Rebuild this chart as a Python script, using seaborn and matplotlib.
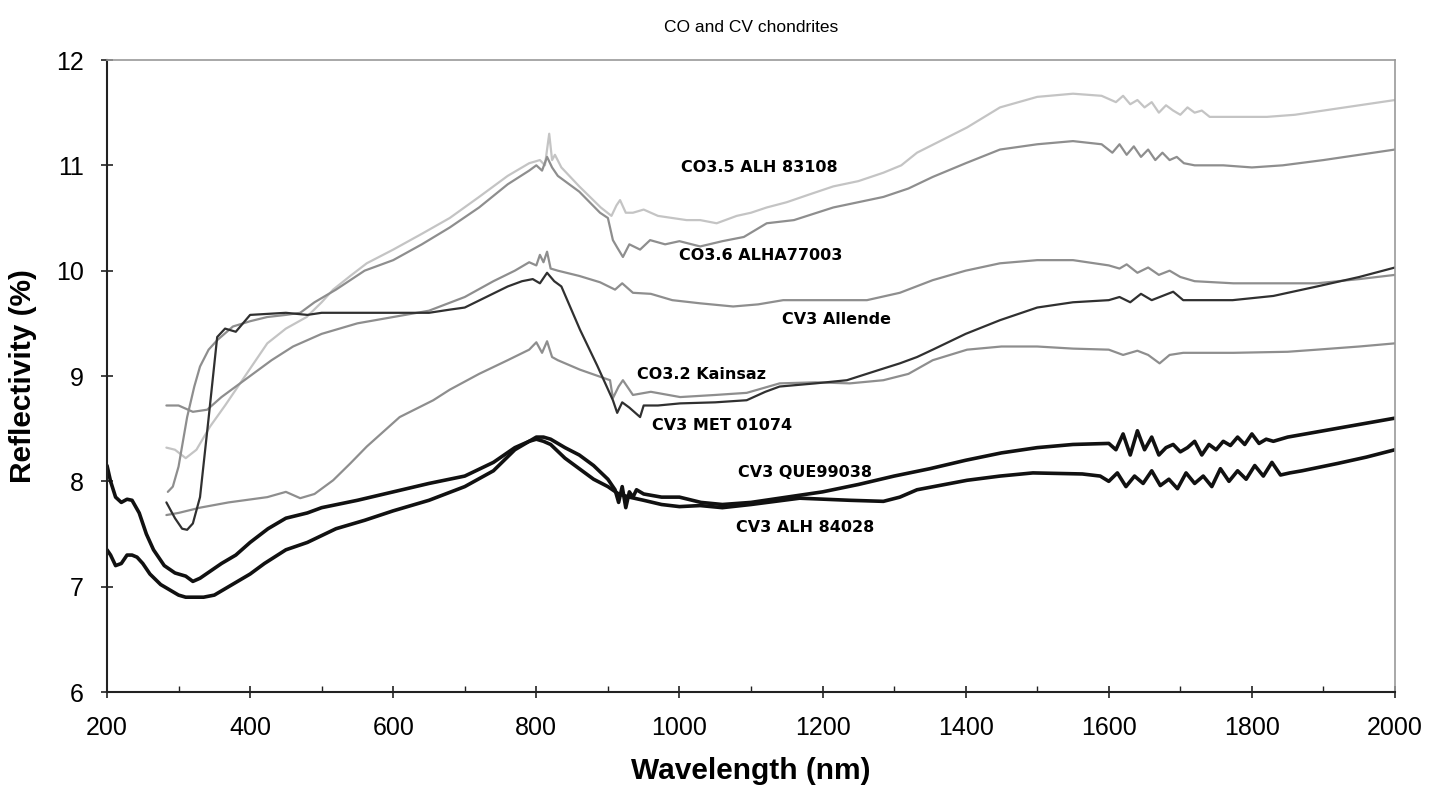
import matplotlib
matplotlib.use("Agg")
import matplotlib.pyplot as plt
from matplotlib.ticker import MultipleLocator
import seaborn as sns

# Spectra (wavelength nm, reflectivity %)
co35_wl = [283, 295, 310, 325, 344, 365, 386, 405, 424, 450, 479, 500, 516, 540, 563, 600, 640, 679, 720, 760,
           790, 805, 812, 818, 822, 826, 835, 860, 890, 905, 912, 917, 925, 935, 950, 970, 990, 1010, 1029, 1052,
           1080, 1100, 1122, 1150, 1180, 1215, 1250, 1285, 1310, 1332, 1370, 1402, 1448, 1500, 1550, 1590, 1610,
           1620, 1630, 1640, 1650, 1660, 1670, 1680, 1690, 1700, 1710, 1720, 1730, 1741, 1780, 1821, 1860, 1900,
           1950, 2000]
co35_r = [8.32, 8.30, 8.22, 8.30, 8.52, 8.72, 8.93, 9.12, 9.31, 9.45, 9.56, 9.70, 9.82, 9.95, 10.07, 10.20, 10.35,
          10.50, 10.70, 10.90, 11.02, 11.05, 11.00, 11.30, 11.05, 11.10, 10.98, 10.80, 10.60, 10.52, 10.62, 10.67,
          10.55, 10.55, 10.58, 10.52, 10.50, 10.48, 10.48, 10.45, 10.52, 10.55, 10.60, 10.65, 10.72, 10.80, 10.85,
          10.93, 11.00, 11.12, 11.25, 11.36, 11.55, 11.65, 11.68, 11.66, 11.60, 11.66, 11.58, 11.62, 11.55, 11.60,
          11.50, 11.57, 11.52, 11.48, 11.55, 11.50, 11.52, 11.46, 11.46, 11.46, 11.48, 11.52, 11.57, 11.62]

co36_wl = [285, 292, 300, 312, 322, 330, 342, 354, 376, 400, 424, 450, 470, 490, 520, 560, 600, 640, 679, 720,
           760, 790, 800, 808, 815, 822, 830, 860, 889, 900, 907, 913, 921, 930, 945, 959, 980, 1000, 1029, 1060,
           1090, 1122, 1160, 1215, 1250, 1285, 1320, 1354, 1400, 1448, 1500, 1550, 1590, 1605, 1615, 1625, 1635,
           1645, 1655, 1665, 1675, 1685, 1695, 1705, 1720, 1760, 1800, 1843, 1900, 1950, 2000]
co36_r = [7.90, 7.95, 8.14, 8.61, 8.90, 9.09, 9.25, 9.34, 9.47, 9.52, 9.56, 9.58, 9.60, 9.70, 9.82, 10.00, 10.10,
          10.25, 10.41, 10.60, 10.82, 10.95, 11.00, 10.95, 11.08, 10.98, 10.90, 10.75, 10.55, 10.50, 10.29, 10.22,
          10.13, 10.25, 10.20, 10.29, 10.25, 10.28, 10.23, 10.28, 10.32, 10.45, 10.48, 10.60, 10.65, 10.70, 10.78,
          10.89, 11.02, 11.15, 11.20, 11.23, 11.20, 11.12, 11.20, 11.10, 11.18, 11.08, 11.15, 11.05, 11.12, 11.05,
          11.08, 11.02, 11.00, 11.00, 10.98, 11.00, 11.05, 11.10, 11.15]

allende_wl = [283, 300, 320, 340, 360, 380, 400, 430, 460, 500, 550, 600, 650, 700, 740, 770, 790, 800, 805, 810,
              815, 820, 830, 860, 889, 910, 920, 935, 960, 990, 1029, 1075, 1110, 1145, 1200, 1262, 1308, 1354,
              1400, 1448, 1500, 1550, 1600, 1615, 1625, 1640, 1655, 1670, 1685, 1700, 1720, 1774, 1830, 1891,
              1950, 2000]
allende_r = [8.72, 8.72, 8.66, 8.68, 8.80, 8.90, 9.00, 9.15, 9.28, 9.40, 9.50, 9.56, 9.62, 9.75, 9.90, 10.00,
             10.08, 10.05, 10.15, 10.08, 10.18, 10.02, 10.00, 9.95, 9.89, 9.82, 9.88, 9.79, 9.78, 9.72, 9.69, 9.66,
             9.68, 9.72, 9.72, 9.72, 9.79, 9.91, 10.00, 10.07, 10.10, 10.10, 10.05, 10.02, 10.06, 9.98, 10.03, 9.96,
             10.00, 9.94, 9.90, 9.88, 9.88, 9.88, 9.92, 9.96]

met_wl = [283, 295, 305, 312, 320, 330, 342, 354, 365, 380, 400, 450, 480, 500, 550, 600, 650, 679, 700, 730, 760,
          780, 795, 805, 815, 825, 835, 861, 885, 907, 913, 920, 930, 945, 950, 970, 1001, 1050, 1094, 1120, 1140,
          1190, 1234, 1280, 1308, 1332, 1354, 1400, 1448, 1500, 1550, 1600, 1615, 1630, 1645, 1660, 1675, 1690,
          1704, 1740, 1773, 1830, 1891, 1950, 2000]
met_r = [7.80, 7.65, 7.55, 7.54, 7.60, 7.85, 8.60, 9.37, 9.45, 9.42, 9.58, 9.60, 9.58, 9.60, 9.60, 9.60, 9.60,
         9.63, 9.65, 9.75, 9.85, 9.90, 9.92, 9.88, 9.98, 9.90, 9.85, 9.44, 9.10, 8.77, 8.65, 8.75, 8.70, 8.61,
         8.72, 8.72, 8.74, 8.75, 8.77, 8.85, 8.90, 8.93, 8.96, 9.06, 9.12, 9.18, 9.25, 9.40, 9.53, 9.65, 9.70,
         9.72, 9.75, 9.70, 9.78, 9.72, 9.76, 9.80, 9.72, 9.72, 9.72, 9.76, 9.85, 9.94, 10.03]

kainsaz_wl = [283, 300, 330, 370, 424, 450, 470, 490, 516, 540, 563, 609, 656, 679, 720, 760, 790, 800, 808, 815,
              822, 830, 861, 903, 907, 915, 921, 935, 960, 1001, 1050, 1094, 1140, 1190, 1238, 1285, 1320, 1354,
              1402, 1450, 1500, 1550, 1600, 1620, 1640, 1655, 1671, 1685, 1704, 1774, 1850, 1891, 1950, 2000]
kainsaz_r = [7.68, 7.70, 7.75, 7.80, 7.85, 7.90, 7.84, 7.88, 8.01, 8.17, 8.33, 8.61, 8.77, 8.87, 9.02, 9.15, 9.25,
             9.32, 9.22, 9.33, 9.18, 9.15, 9.06, 8.96, 8.79, 8.90, 8.96, 8.82, 8.85, 8.80, 8.82, 8.84, 8.93, 8.94,
             8.93, 8.96, 9.02, 9.15, 9.25, 9.28, 9.28, 9.26, 9.25, 9.20, 9.24, 9.20, 9.12, 9.20, 9.22, 9.22, 9.23,
             9.25, 9.28, 9.31]

que_wl = [200, 205, 212, 220, 228, 235, 245, 255, 265, 280, 295, 310, 320, 330, 345, 360, 380, 400, 425, 450, 480,
          500, 550, 600, 650, 700, 740, 770, 790, 800, 810, 820, 840, 860, 880, 900, 910, 915, 920, 925, 930, 935,
          940, 950, 975, 1000, 1030, 1060, 1100, 1150, 1200, 1250, 1300, 1350, 1400, 1450, 1500, 1550, 1600, 1610,
          1620, 1630, 1640, 1650, 1660, 1670, 1680, 1690, 1700, 1710, 1720, 1730, 1740, 1750, 1760, 1770, 1780,
          1790, 1800, 1810, 1820, 1830, 1850, 1900, 1950, 2000]
que_r = [8.15, 8.00, 7.85, 7.80, 7.83, 7.82, 7.70, 7.50, 7.35, 7.20, 7.13, 7.10, 7.05, 7.08, 7.15, 7.22, 7.30,
         7.42, 7.55, 7.65, 7.70, 7.75, 7.82, 7.90, 7.98, 8.05, 8.18, 8.32, 8.38, 8.42, 8.42, 8.40, 8.32, 8.25,
         8.15, 8.02, 7.92, 7.80, 7.95, 7.75, 7.90, 7.85, 7.92, 7.88, 7.85, 7.85, 7.80, 7.78, 7.80, 7.85, 7.90,
         7.97, 8.05, 8.12, 8.20, 8.27, 8.32, 8.35, 8.36, 8.30, 8.45, 8.25, 8.48, 8.30, 8.42, 8.25, 8.32, 8.35,
         8.28, 8.32, 8.38, 8.25, 8.35, 8.30, 8.38, 8.34, 8.42, 8.35, 8.45, 8.36, 8.40, 8.38, 8.42, 8.48, 8.54,
         8.60]

alh84_wl = [200, 205, 212, 220, 228, 235, 242, 250, 260, 275, 290, 300, 310, 320, 335, 350, 370, 400, 420, 450,
            480, 520, 560, 600, 650, 700, 740, 770, 790, 800, 810, 820, 840, 860, 880, 900, 915, 930, 950, 975,
            1000, 1029, 1060, 1100, 1168, 1238, 1285, 1308, 1332, 1402, 1448, 1494, 1563, 1588, 1600, 1612, 1624,
            1636, 1648, 1660, 1672, 1684, 1696, 1708, 1720, 1732, 1744, 1756, 1768, 1780, 1792, 1804, 1816, 1828,
            1840, 1853, 1870, 1920, 1960, 2000]
alh84_r = [7.35, 7.30, 7.20, 7.22, 7.30, 7.30, 7.28, 7.22, 7.12, 7.02, 6.96, 6.92, 6.90, 6.90, 6.90, 6.92, 7.00,
           7.12, 7.22, 7.35, 7.42, 7.55, 7.63, 7.72, 7.82, 7.95, 8.10, 8.30, 8.38, 8.40, 8.38, 8.35, 8.22, 8.12,
           8.02, 7.95, 7.88, 7.85, 7.82, 7.78, 7.76, 7.77, 7.75, 7.78, 7.84, 7.82, 7.81, 7.85, 7.92, 8.01, 8.05,
           8.08, 8.07, 8.05, 8.00, 8.08, 7.95, 8.05, 7.98, 8.10, 7.96, 8.02, 7.93, 8.08, 7.98, 8.05, 7.95, 8.12,
           8.00, 8.10, 8.02, 8.15, 8.05, 8.18, 8.06, 8.08, 8.10, 8.17, 8.23, 8.30]

sns.set_style("white")
plt.rcParams["font.family"] = ["Liberation Sans", "DejaVu Sans"]
plt.rcParams["text.color"] = "black"
plt.rcParams["axes.labelcolor"] = "black"
plt.rcParams["xtick.color"] = "black"
plt.rcParams["ytick.color"] = "black"

fig = plt.figure(figsize=(14.41, 8.02), dpi=100)
ax = fig.add_axes([107 / 1441, 1 - 692 / 802, 1288 / 1441, 632 / 802])

# gray series first, black ones on top
sns.lineplot(x=co35_wl, y=co35_r, ax=ax, color="#c4c4c4", lw=1.6, sort=False, estimator=None)
sns.lineplot(x=co36_wl, y=co36_r, ax=ax, color="#8e8e8e", lw=1.6, sort=False, estimator=None)
sns.lineplot(x=allende_wl, y=allende_r, ax=ax, color="#8e8e8e", lw=1.6, sort=False, estimator=None)
sns.lineplot(x=kainsaz_wl, y=kainsaz_r, ax=ax, color="#8e8e8e", lw=1.6, sort=False, estimator=None)
sns.lineplot(x=met_wl, y=met_r, ax=ax, color="#303030", lw=1.6, sort=False, estimator=None)
sns.lineplot(x=que_wl, y=que_r, ax=ax, color="#111111", lw=2.6, sort=False, estimator=None)
sns.lineplot(x=alh84_wl, y=alh84_r, ax=ax, color="#111111", lw=2.6, sort=False, estimator=None)

labels = [
    ("CO3.5 ALH 83108", 1111, 10.98),
    ("CO3.6 ALHA77003", 1114, 10.14),
    ("CV3 Allende", 1220, 9.54),
    ("CO3.2 Kainsaz", 1031, 9.01),
    ("CV3 MET 01074", 1059, 8.53),
    ("CV3 QUE99038", 1175, 8.08),
    ("CV3 ALH 84028", 1175, 7.56),
]
for txt, lx, ly in labels:
    ax.text(lx, ly, txt, ha="center", va="center", fontsize=11.5, fontweight="bold",
            family=["DejaVu Sans"], color="black")

ax.set_xlim(200, 2000)
ax.set_ylim(6, 12)
ax.xaxis.set_major_locator(MultipleLocator(200))
ax.xaxis.set_minor_locator(MultipleLocator(100))
ax.yaxis.set_major_locator(MultipleLocator(1))
ax.tick_params(axis="both", which="major", direction="inout", length=9, width=1.2,
               color="#222222", labelcolor="black", labelsize=18, bottom=True, left=True)
ax.tick_params(axis="x", which="major", pad=13)
ax.tick_params(axis="y", which="major", pad=12)
ax.tick_params(axis="x", which="minor", direction="in", length=4, width=1, color="#222222", bottom=True)

for side in ["left", "bottom"]:
    ax.spines[side].set_color("#222222")
    ax.spines[side].set_linewidth(1.5)
for side in ["top", "right"]:
    ax.spines[side].set_color("#999999")
    ax.spines[side].set_linewidth(1.2)

ax.set_xlabel("Wavelength (nm)", fontsize=21.5, fontweight="bold", labelpad=12, color="black")
ax.set_ylabel("Reflectivity (%)", fontsize=21.5, fontweight="bold", labelpad=14, color="black")
fig.text(751 / 1441, 1 - 27 / 802, "CO and CV chondrites", ha="center", va="center", fontsize=12.5,
         color="black")

fig.savefig("out.png", dpi=100)
